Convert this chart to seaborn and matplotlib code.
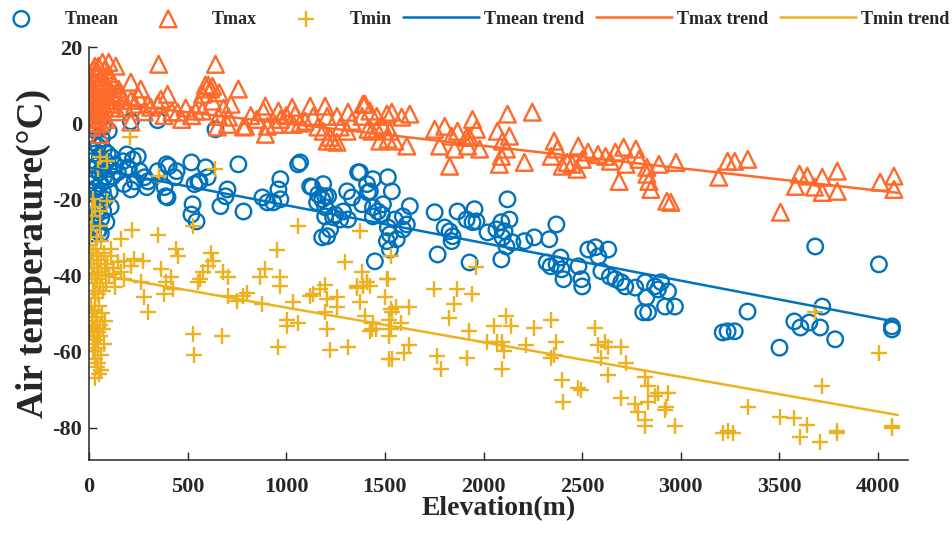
import numpy as np
import pandas as pd
import matplotlib
matplotlib.use("Agg")
import matplotlib.pyplot as plt
import seaborn as sns

# Series: (elevation in m, temperature in degC)
tmean_pts = [
    (5, -3), (8, -10), (10, -15), (12, -20), (15, -25), (18, -5), (20, -12), (22, -18), (25, -27),
    (28, -8), (30, -14), (32, -22), (35, -2), (38, -17), (40, -24), (42, -11), (45, -6), (48, -19),
    (50, -28), (52, -13), (55, -9), (58, -21), (60, -16), (62, -25), (65, -4), (68, -12), (70, -18),
    (72, -23), (75, -7), (78, -14), (80, -20), (85, -10), (88, -26), (90, -15), (95, -8), (100, -12),
    (105, -18), (110, -22), (115, -9), (30, -1), (20, -29), (45, -28.5), (60, -29), (100, -2), (70, -1),
    (120, -14), (130, -11),
    (212, 0.5), (348, 0.8), (641, -1.6), (192, -8.2), (222, -9.5), (247, -8.7), (197, -11.6),
    (257, -12.6), (232, -15.3), (282, -14.2), (293, -16.8), (146, -12.9), (172, -10), (202, -12.1),
    (298, -15.3), (212, -17.4), (177, -16), (348, -12.6), (404, -11.3), (393, -10.8), (444, -12.6),
    (434, -14.2), (383, -16.8), (398, -19.5), (389, -19.2), (519, -10.3), (535, -16), (560, -15.3),
    (525, -21.3), (519, -24), (545, -25.8), (591, -11.6), (601, -14.2), (555, -15.5), (757, -10.8),
    (666, -21.8), (692, -19.2), (702, -17.4), (783, -23.2), (879, -19.5), (904, -20.8), (934, -20.8),
    (970, -20), (970, -14.7), (960, -17.4), (1060, -10.8), (1070, -10.3), (1121, -16.6), (1131, -16.8),
    (1161, -18.7), (1156, -20.8), (1182, -20), (1187, -16), (1197, -19.2), (1197, -22.1), (1197, -24.5),
    (1212, -19.2), (1207, -29.7), (1182, -30), (1222, -27.9), (1237, -24.7), (1247, -24), (1273, -25.3),
    (1288, -23.2), (1308, -17.9), (1313, -25.3), (1333, -19.5), (1364, -12.9), (1373, -12.9),
    (1384, -21.3), (1409, -16), (1414, -18.2), (1424, -17.9), (1439, -14.7), (1439, -22.1),
    (1439, -24.5), (1449, -36.3), (1464, -23.2), (1485, -24), (1490, -21.3), (1510, -31), (1515, -14.2),
    (1515, -27.4), (1525, -29.2), (1525, -33.2), (1535, -17.9), (1550, -25.3), (1560, -30.5),
    (1591, -27.9), (1591, -24.5), (1611, -26.6), (1626, -21.8), (1752, -23.4), (1767, -34.5),
    (1803, -27.4), (1828, -28.4), (1838, -31), (1843, -29.7), (1868, -23.2), (1914, -25.3),
    (1929, -36.6), (1944, -26), (1954, -22.6), (1964, -25.8), (2020, -28.7), (2065, -27.9), (2090, -26),
    (2090, -35.8), (2096, -30), (2106, -28.4), (2116, -32.4), (2121, -20), (2131, -25.3), (2146, -31.3),
    (2207, -31), (2257, -30), (2320, -36.6), (2333, -30.5), (2340, -37.6), (2369, -26.6), (2370, -37.1),
    (2390, -35.3), (2395, -38.4), (2405, -41), (2481, -37.6), (2496, -41), (2500, -42.9), (2531, -33.2),
    (2567, -32.6), (2582, -35), (2597, -38.9), (2632, -33.2), (2640, -40.3), (2668, -41), (2698, -41.8),
    (2718, -42.9), (2769, -43.2), (2809, -49.7), (2819, -41.8), (2825, -45.8), (2834, -49.7),
    (2869, -42.9), (2884, -43.7), (2900, -41.8), (2920, -48.2), (2935, -44.2), (2970, -48.2),
    (3212, -55), (3237, -54.7), (3273, -54.7), (3338, -49.5), (3500, -59), (3575, -52.1), (3606, -53.7),
    (3651, -52.4), (3681, -32.4), (3706, -53.7), (3717, -48.2), (3782, -56.8), (4004, -37.1),
    (4070, -53.4), (4070, -54.2),
]

tmax_pts = [
    (3, 6), (5, 10), (8, 3), (10, 8), (12, 12), (15, 5), (18, 1), (20, 9), (22, 14), (25, 7), (28, 4),
    (30, 11), (32, 2), (35, 8), (38, 13), (40, 6), (42, 0), (45, 10), (48, 15), (50, 5), (52, 3),
    (55, -3), (58, 9), (60, 12), (62, 7), (65, 2), (68, 16), (70, 5), (72, 10), (75, 8), (78, 14),
    (80, 4), (82, 11), (85, 6), (88, 1), (90, 9), (95, 7), (100, 16), (105, 5), (110, 12), (115, 8),
    (120, 4), (125, 10), (130, 6), (136, 15), (140, 7), (145, 3), (150, 9), (15, -1), (30, 15), (60, 0),
    (95, 13),
    (160, 8), (172, 6), (185, 4), (212, 10.8), (212, 6), (212, 0.3), (232, 5), (250, 7), (262, 9),
    (280, 3), (298, 5), (313, 4.2), (348, 5), (353, 15.5), (364, 6.3), (380, 2), (398, 7.6), (420, 3),
    (449, 2.9), (470, 1), (490, 4), (520, 2), (540, 3.2), (560, 5), (575, 7.6), (575, 3.2), (590, 10),
    (605, 10), (616, 9), (626, 9.7), (626, 5.8), (641, 15.5), (650, -1), (656, 1.8), (660, 8), (682, 4),
    (707, 1.6), (702, -0.3), (720, 5), (757, 9), (783, -1), (793, -0.8), (820, 2), (850, 1), (884, 3.2),
    (894, 4.5), (894, -2.9), (904, -0.8), (944, -0.3), (960, 3.2), (970, 1), (1000, 2), (1030, 4.2),
    (1035, -0.3), (1045, 2.4), (1070, 0), (1096, 0.5), (1121, 4.5), (1136, 1.8), (1160, -1),
    (1187, -2.1), (1197, 4.5), (1207, 1.8), (1207, -4.7), (1222, -3.7), (1237, -4.7), (1257, 1.8),
    (1257, -5), (1273, -1), (1308, -2.1), (1313, 2.9), (1333, 0.5), (1389, 5), (1384, 1.8), (1399, 5),
    (1414, -1.6), (1424, 3.2), (1434, -2.1), (1459, 1.8), (1459, -1.6), (1474, -4.7), (1490, -0.8),
    (1510, 2.4), (1515, -4.2), (1525, -2.1), (1535, 2.9), (1550, -4.7), (1585, 1.6), (1611, -6),
    (1626, 2.4), (1752, -1.6), (1777, -6), (1803, -0.8), (1828, -11.3), (1838, -3.4), (1853, -6.8),
    (1868, -2.1), (1914, -3.7), (1919, -6), (1929, -3.7), (1944, 1), (1964, -1.6), (1980, -6.8),
    (2070, -2.1), (2080, -10.8), (2090, -8.7), (2096, -4.7), (2116, -6.8), (2121, 2.4), (2131, -3.4),
    (2207, -10.3), (2247, 2.9), (2343, -8.7), (2358, -4.7), (2374, -6.8), (2399, -11.3), (2424, -10.3),
    (2449, -10.8), (2474, -12.1), (2480, -6), (2500, -9.5), (2530, -7.6), (2580, -8.2), (2618, -8.7),
    (2643, -10), (2668, -7.6), (2687, -15.3), (2710, -6.3), (2722, -10.8), (2772, -6.8), (2788, -9.5),
    (2828, -11.6), (2828, -13.4), (2838, -15.3), (2848, -17.4), (2889, -10.8), (2929, -20.5),
    (2949, -20.8), (2975, -10.3), (3192, -14.2), (3237, -10), (3273, -10), (3339, -9.5), (3505, -23.4),
    (3581, -16.6), (3601, -13.4), (3641, -13.9), (3677, -16.8), (3717, -14.2), (3717, -18.2),
    (3793, -12.6), (3793, -17.9), (4010, -15.5), (4080, -13.9), (4080, -17.4),
]

tmin_pts = [
    (55, -9), (91, -10), (45, -12), (20, -20), (91, -20.5), (30, -22), (55, -23), (15, -24.5), (55, -27),
    (10, -28), (40, -30),
    (5, -32), (10, -36), (15, -40), (18, -44), (20, -34), (25, -38), (28, -42), (30, -46), (35, -33),
    (38, -37), (40, -41), (45, -45), (48, -35), (50, -39), (55, -43), (60, -31), (62, -36), (65, -40),
    (70, -44), (75, -34), (80, -38), (85, -42), (90, -37), (100, -40), (110, -35), (120, -38), (130, -43),
    (10, -48), (15, -52), (18, -56), (20, -60), (22, -50), (25, -54), (28, -58), (30, -62), (32, -49),
    (35, -53), (38, -57), (40, -64), (42, -51), (45, -55), (48, -59), (50, -66), (52, -48), (55, -53),
    (58, -56), (60, -61), (62, -65), (65, -50), (70, -54), (75, -58), (80, -52), (30, -67), (45, -63),
    (5, -55),
    (207, -3.7), (641, -12), (353, -14), (525, -27), (217, -28), (348, -29.5), (161, -30.5), (1060, -27),
    (1373, -28.4), (439, -33), (449, -35), (616, -34), (631, -36.3), (953, -33.2), (1296, -36.6),
    (1382, -39), (1409, -41.8), (1359, -42.9), (146, -36.6), (177, -36.3), (227, -35.8), (272, -36.3),
    (212, -37.6), (161, -39), (177, -41), (126, -39.7), (111, -33), (262, -41.8), (277, -45.8),
    (298, -49.7), (363, -38.4), (388, -41.8), (378, -45), (414, -40.3), (424, -43.7), (525, -55.5),
    (530, -60.8), (676, -56), (550, -41.8), (565, -41), (580, -39.2), (605, -37.6), (681, -39),
    (702, -40.3), (702, -45.5), (751, -46.8), (782, -45.5), (802, -44.5), (867, -40.3), (893, -38.4),
    (878, -47.6), (968, -40.5), (968, -42.9), (958, -58.7), (1004, -51.6), (1004, -53.4), (1034, -47.1),
    (1059, -52.4), (1120, -45.5), (1135, -45), (1170, -43.7), (1195, -42.4), (1205, -46.3),
    (1195, -49.7), (1205, -54.2), (1220, -59.5), (1256, -45.8), (1256, -48.4), (1311, -58.7),
    (1357, -43.2), (1387, -42.9), (1407, -41.8), (1372, -47.1), (1397, -50.8), (1432, -54.2),
    (1457, -54.2), (1508, -41), (1498, -45.8), (1533, -48.9), (1523, -56), (1523, -62.1), (1533, -35),
    (1515, -41), (1422, -42.9), (1558, -48.2), (1538, -49.7), (1624, -48.2), (1523, -51.6),
    (1583, -52.4), (1437, -52.4), (1422, -54.7), (1533, -54.2), (1624, -58.2), (1598, -60.3),
    (1538, -62.1), (1750, -43.7), (1785, -64.7), (1765, -61.3), (1826, -51.1), (1866, -43.7),
    (1851, -47.6), (1942, -45), (1962, -37.9), (1926, -54.7), (1916, -61.6), (2017, -57.6),
    (2068, -57.6), (2093, -57.6), (2103, -60), (2093, -64.7), (2113, -50.8), (2052, -53.4),
    (2138, -53.4), (2254, -53.7), (2340, -51.6), (2214, -58.2), (2365, -57.6), (2355, -60.8),
    (2340, -61.6), (2395, -67.4), (2405, -73.2), (2481, -69.5), (2496, -70), (2567, -53.7),
    (2582, -58.2), (2617, -57.6), (2632, -58.7), (2698, -58.7), (2597, -61.6), (2632, -66.1),
    (2723, -62.9), (2698, -72.1), (2769, -73.9), (2784, -75.8), (2819, -77.9), (2819, -79.7),
    (2819, -66.8), (2869, -71.8), (2935, -70.8), (2920, -75.3), (2834, -69.2), (2834, -73.4),
    (2884, -70.8), (2925, -74.7), (2970, -79.7), (3338, -74.5), (3212, -81.3), (3237, -81),
    (3263, -81.3), (3505, -77.1), (3575, -77.4), (3641, -79.2), (3606, -82.4), (3706, -83.9),
    (3717, -69.2), (3792, -81), (3792, -81.3), (3681, -49.7), (4004, -60.3), (4070, -79.7), (4070, -80),
]

# Linear trend lines (end points)
trend_elev = [5, 4100]
tmean_trend = [-11.7, -52.3]
tmax_trend = [5.8, -18.3]
tmin_trend = [-39.4, -76.7]

c_mean = "#0072BD"
c_max = "#FF6A2B"
c_min = "#EDB120"

sns.set_style("ticks")
plt.rcParams["font.family"] = ["Liberation Serif", "DejaVu Serif"]
plt.rcParams["font.weight"] = "bold"
plt.rcParams["axes.unicode_minus"] = False

tmean_df = pd.DataFrame(tmean_pts, columns=["Elevation", "T"])
tmax_df = pd.DataFrame(tmax_pts, columns=["Elevation", "T"])
tmin_df = pd.DataFrame(tmin_pts, columns=["Elevation", "T"])

fig = plt.figure(figsize=(9.52, 5.36), dpi=100)
ax = fig.add_axes([0.0935, 0.142, 0.86, 0.77])

sns.scatterplot(data=tmean_df, x="Elevation", y="T", ax=ax, marker="o", s=125,
                facecolor="none", edgecolor=c_mean, linewidth=1.7, label="Tmean")
sns.scatterplot(data=tmax_df, x="Elevation", y="T", ax=ax, marker="^", s=145,
                facecolor="none", edgecolor=c_max, linewidth=1.7, label="Tmax")
sns.scatterplot(data=tmin_df, x="Elevation", y="T", ax=ax, marker="+", s=140,
                color=c_min, linewidth=1.7, label="Tmin")
sns.lineplot(x=trend_elev, y=tmean_trend, ax=ax, color=c_mean, linewidth=1.8, label="Tmean trend")
sns.lineplot(x=trend_elev, y=tmax_trend, ax=ax, color=c_max, linewidth=1.8, label="Tmax trend")
sns.lineplot(x=trend_elev, y=tmin_trend, ax=ax, color=c_min, linewidth=1.8, label="Tmin trend")

ax.set_xlim(0, 4150)
ax.set_ylim(-88.5, 20)
ax.set_xticks(np.arange(0, 4001, 500))
ax.set_yticks(np.arange(-80, 21, 20))
sns.despine(ax=ax)
for side in ["left", "bottom"]:
    ax.spines[side].set_color("#262626")
    ax.spines[side].set_linewidth(1.1)
ax.tick_params(axis="both", direction="in", length=6, width=1.0, color="#262626", labelsize=16)
ax.tick_params(axis="x", pad=12)
ax.tick_params(axis="y", pad=5)
for lab in ax.get_xticklabels() + ax.get_yticklabels():
    lab.set_fontweight("bold")

ax.set_xlabel("Elevation(m)", fontsize=20, fontweight="bold", labelpad=0)
ax.set_ylabel("Air temperature(°C)", fontsize=27, fontweight="bold", labelpad=1)

handles, labels = ax.get_legend_handles_labels()
ax.get_legend().remove()
fig.legend(handles, labels, loc="lower left", bbox_to_anchor=(-0.025, 0.935, 1.03, 0.06),
           mode="expand", ncol=6, frameon=False, borderaxespad=0,
           handlelength=4.2, handletextpad=0.3, prop={"weight": "bold", "size": 13})

fig.savefig("out.png", dpi=100)
